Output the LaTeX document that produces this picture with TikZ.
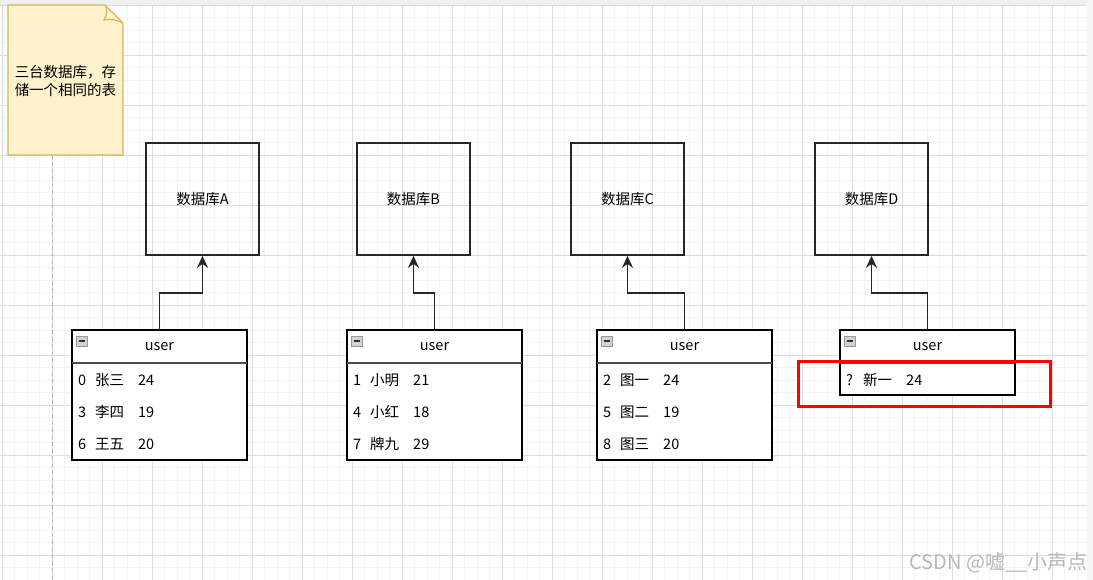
\documentclass[tikz,border=0pt]{standalone}
\usepackage{fontspec}
\setmainfont{Noto Sans CJK SC}
\usetikzlibrary{arrows.meta}
\definecolor{gridminor}{HTML}{F3F3F3}
\definecolor{gridmajor}{HTML}{DDDDDD}
\definecolor{notefill}{HTML}{FFF2CC}
\definecolor{notedraw}{HTML}{D6B656}
\definecolor{redbox}{HTML}{FF0000}
\definecolor{wm}{HTML}{B8B8B8}
\tikzset{
  dbbox/.style={draw=black!85, line width=1.7pt, minimum width=113pt, minimum height=112pt, inner sep=0pt, font=\fontsize{14.5}{17}\selectfont},
  cell/.style={anchor=west, inner sep=0pt, font=\fontsize{14.5}{17}\selectfont},
  hdr/.style={inner sep=0pt, font=\fontsize{14.5}{17}\selectfont},
  conn/.style={draw=black!85, line width=1.7pt, -{Stealth[length=12pt,width=11pt]}},
}
\newcommand{\usertable}[3]{% #1 name, #2 left, #3 bottom
  \draw[line width=1.7pt] (#2,330) rectangle (#2+175,#3);
  \draw[line width=2.4pt, black!70] (#2,363) -- (#2+175,363);
  \node[hdr] (#1h) at (#2+87.5,347) {user};
  \draw[gray!80, line width=0.8pt, fill=gray!35] (#2+4,336) rectangle (#2+15,346);
  \draw[black!80, line width=1.6pt] (#2+6.5,341) -- (#2+12.5,341);
  \coordinate (#1top) at (#2+87.5,330);
}
\begin{document}
\begin{tikzpicture}[x=1pt,y=-1pt]
\useasboundingbox (0,0) rectangle (1093,580);
\fill[white] (0,0) rectangle (1093,580);
\fill[black!6] (0,0) rectangle (1093,5);
\fill[black!4] (1087,0) rectangle (1093,580);
% grid
\foreach \i in {0,...,86} {
  \draw[gridminor, line width=0.8pt] ({2+12.5*\i},5) -- ({2+12.5*\i},580);
}
\foreach \j in {0,...,46} {
  \draw[gridminor, line width=0.8pt] (0,{5+12.5*\j}) -- (1087,{5+12.5*\j});
}
\foreach \i in {0,...,21} {
  \draw[gridmajor, line width=0.8pt] ({2+50*\i},5) -- ({2+50*\i},580);
}
\foreach \j in {0,...,11} {
  \draw[gridmajor, line width=0.8pt] (0,{5+50*\j}) -- (1087,{5+50*\j});
}
% dashed vertical line
\draw[black!30, line width=1pt, dash pattern=on 4pt off 3pt] (52,155) -- (52,580);
% note
\draw[notedraw, fill=notefill, line width=1.2pt] (8,5) -- (105,5) -- (123,23) -- (123,155) -- (8,155) -- cycle;
\draw[notedraw, line width=1.2pt] (105,5) .. controls (108,10) and (107,14) .. (104,20) .. controls (112,18) and (118,21) .. (123,23);
\node[align=center, inner sep=0pt, font=\fontsize{14.5}{17.5}\selectfont] (note) at (65.5,81) {三台数据库，存\\储一个相同的表};
% database boxes
\node[dbbox] (dbA) at (202.5,199) {数据库A};
\node[dbbox] (dbB) at (413.5,199) {数据库B};
\node[dbbox] (dbC) at (627.5,199) {数据库C};
\node[dbbox] (dbD) at (871.5,199) {数据库D};
% tables
\fill[white] (72,330) rectangle (247,460);
\fill[white] (347,330) rectangle (522,460);
\fill[white] (597,330) rectangle (772,460);
\fill[white] (840,330) rectangle (1015,395);
\usertable{tA}{72}{460}
\usertable{tB}{347}{460}
\usertable{tC}{597}{460}
\usertable{tD}{840}{395}
% rows A
\node[cell] (a1n) at (78,380) {0}; \node[cell] (a1m) at (95,380) {张三}; \node[cell] (a1a) at (138,380) {24};
\node[cell] (a2n) at (78,412) {3}; \node[cell] (a2m) at (95,412) {李四}; \node[cell] (a2a) at (138,412) {19};
\node[cell] (a3n) at (78,444) {6}; \node[cell] (a3m) at (95,444) {王五}; \node[cell] (a3a) at (138,444) {20};
% rows B
\node[cell] (b1n) at (353,380) {1}; \node[cell] (b1m) at (370,380) {小明}; \node[cell] (b1a) at (413,380) {21};
\node[cell] (b2n) at (353,412) {4}; \node[cell] (b2m) at (370,412) {小红}; \node[cell] (b2a) at (413,412) {18};
\node[cell] (b3n) at (353,444) {7}; \node[cell] (b3m) at (370,444) {牌九}; \node[cell] (b3a) at (413,444) {29};
% rows C
\node[cell] (c1n) at (603,380) {2}; \node[cell] (c1m) at (620,380) {图一}; \node[cell] (c1a) at (663,380) {24};
\node[cell] (c2n) at (603,412) {5}; \node[cell] (c2m) at (620,412) {图二}; \node[cell] (c2a) at (663,412) {19};
\node[cell] (c3n) at (603,444) {8}; \node[cell] (c3m) at (620,444) {图三}; \node[cell] (c3a) at (663,444) {20};
% row D
\node[cell] (d1n) at (846,380) {?}; \node[cell] (d1m) at (863,380) {新一}; \node[cell] (d1a) at (906,380) {24};
% connectors
\draw[conn] (tAtop) -- ++(0,-37) -| (dbA.south);
\draw[conn] (tBtop) -- ++(0,-37) -| (dbB.south);
\draw[conn] (tCtop) -- ++(0,-37) -| (dbC.south);
\draw[conn] (tDtop) -- ++(0,-37) -| (dbD.south);
% red highlight
\node[draw=redbox, line width=3pt, minimum width=252pt, minimum height=45pt, inner sep=0pt] (hl) at (924,383.5) {};
% watermark
\node[anchor=east, inner sep=0pt, text=wm, font=\fontsize{20}{22}\selectfont] (wmark) at (1088,563) {CSDN @嘘\_\_小声点};
\end{tikzpicture}
\end{document}
